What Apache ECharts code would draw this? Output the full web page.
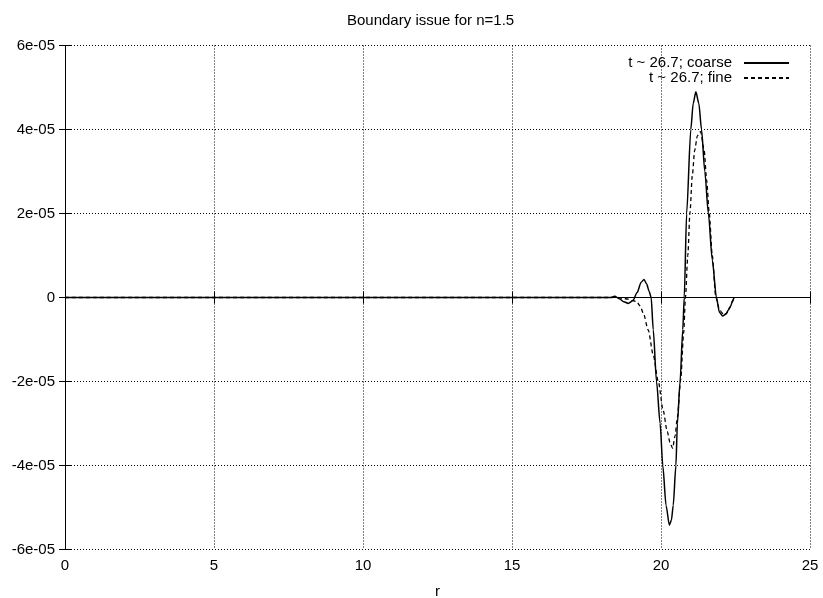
<!DOCTYPE html>
<html>
<head>
<meta charset="utf-8">
<script src="https://cdn.jsdelivr.net/npm/echarts@6/dist/echarts.min.js"></script>
<style>
html,body{margin:0;padding:0;background:#fff;}
#chart{width:823px;height:598px;}
</style>
</head>
<body>
<div id="chart"></div>
<script>
// ---- data (values in units of 1e-5, converted below) ----
const titleText = 'Boundary issue for n=1.5';
const xName = 'r';
const seriesNames = ['t ~ 26.7; coarse', 't ~ 26.7; fine'];

const coarseR = [0, 18.3, 18.45, 18.6, 18.75, 18.9, 19.05, 19.2, 19.33, 19.43, 19.52, 19.6, 19.67, 19.74, 19.85, 19.97, 20.06, 20.17, 20.28, 20.35, 20.41, 20.5, 20.55, 20.64, 20.73, 20.78, 20.86, 21.0, 21.08, 21.17, 21.27, 21.36, 21.47, 21.59, 21.72, 21.86, 21.96, 22.07, 22.17, 22.26, 22.34, 22.4, 22.45];
const coarseV = [0, 0, 0.03, -0.03, -0.1, -0.14, -0.08, 0.12, 0.36, 0.43, 0.32, 0.15, 0, -0.77, -2.0, -3.0, -4.0, -4.95, -5.42, -5.3, -4.95, -4.0, -3.0, -2.0, -0.77, 0, 2.0, 4.0, 4.62, 4.9, 4.62, 4.0, 3.0, 2.0, 0.9, 0, -0.35, -0.44, -0.4, -0.3, -0.2, -0.08, 0];

const fineR = [0, 18.3, 18.5, 18.7, 18.9, 19.05, 19.18, 19.3, 19.41, 19.57, 19.74, 19.91, 20.07, 20.21, 20.3, 20.39, 20.47, 20.55, 20.66, 20.76, 20.82, 20.9, 20.97, 21.05, 21.13, 21.22, 21.33, 21.45, 21.53, 21.62, 21.72, 21.84, 21.95, 22.03, 22.1, 22.2, 22.3, 22.4, 22.45];
const fineV = [0, 0, 0.01, -0.02, -0.04, -0.07, -0.1, -0.2, -0.38, -0.77, -1.37, -2.0, -2.68, -3.19, -3.45, -3.59, -3.3, -2.85, -1.96, -0.85, 0, 1.0, 2.0, 2.9, 3.5, 3.85, 3.95, 3.5, 2.8, 2.0, 1.0, 0, -0.25, -0.35, -0.42, -0.38, -0.25, -0.1, 0];

const xTicks = [0, 5, 10, 15, 20, 25];
const yTickValues = [-6e-5, -4e-5, -2e-5, 0, 2e-5, 4e-5, 6e-5];
const yTickLabels = ['-6e-05', '-4e-05', '-2e-05', '0', '2e-05', '4e-05', '6e-05'];

const SCALE = 1e-5;
const coarseData = coarseR.map((r, i) => [r, coarseV[i] * SCALE]);
const fineData = fineR.map((r, i) => [r, fineV[i] * SCALE]);

const FONT = 'Liberation Sans';
const FS = 15;

function yFmt(v) {
  let best = 0, bd = Infinity;
  yTickValues.forEach((t, i) => { const d = Math.abs(t - v); if (d < bd) { bd = d; best = i; } });
  return yTickLabels[best];
}

const axisCommon = {
  axisLine: { show: true, lineStyle: { color: '#000', width: 1 } },
  axisTick: { show: true, inside: true, length: 6, lineStyle: { color: '#000', width: 1 } }
};

const chart = echarts.init(document.getElementById('chart'), null, { renderer: 'canvas' });
chart.setOption({
  animation: false,
  backgroundColor: '#fff',
  title: {
    text: titleText, left: 347, top: 13, padding: 0,
    textStyle: { fontFamily: FONT, fontSize: FS, fontWeight: 'normal', color: '#000' }
  },
  legend: {
    orient: 'vertical', right: 33, top: 55.5, padding: 0, itemGap: 0,
    align: 'right', itemWidth: 45, itemHeight: 15,
    data: seriesNames,
    itemStyle: { color: 'rgba(0,0,0,0)', borderWidth: 0, opacity: 0 },
    textStyle: { fontFamily: FONT, fontSize: FS, color: '#000', lineHeight: 15, padding: [0, 7, 0, 0] }
  },
  grid: { left: 65, right: 13, top: 45.5, bottom: 48.5, containLabel: false, outerBoundsMode: 'none' },
  xAxis: [
    Object.assign({}, axisCommon, {
      type: 'value', position: 'bottom', min: xTicks[0], max: xTicks[xTicks.length - 1], interval: 5,
      name: xName, nameLocation: 'middle', nameGap: 35,
      nameTextStyle: { fontFamily: FONT, fontSize: FS, color: '#000' },
      axisLabel: { fontFamily: FONT, fontSize: FS, color: '#000', margin: 9 },
      splitLine: { show: true, lineStyle: { color: '#000', width: 1, type: [1, 2] } }
    }),
    Object.assign({}, axisCommon, {
      type: 'value', position: 'top', min: xTicks[0], max: xTicks[xTicks.length - 1], interval: 5,
      axisLabel: { show: false }, splitLine: { show: false }
    })
  ],
  yAxis: [
    Object.assign({}, axisCommon, {
      type: 'value', position: 'left', min: yTickValues[0], max: yTickValues[yTickValues.length - 1], interval: 2e-5,
      axisLabel: { fontFamily: FONT, fontSize: FS, color: '#000', margin: 10, formatter: yFmt },
      splitLine: { show: true, lineStyle: { color: '#000', width: 1, type: [1, 2] } }
    }),
    Object.assign({}, axisCommon, {
      type: 'value', position: 'right', min: yTickValues[0], max: yTickValues[yTickValues.length - 1], interval: 2e-5,
      axisLabel: { show: false }, splitLine: { show: false }
    })
  ],
  series: [
    {
      name: seriesNames[0], type: 'line', data: coarseData, xAxisIndex: 0, yAxisIndex: 0,
      symbol: 'none', smooth: 0.25, smoothMonotone: 'x',
      lineStyle: { color: '#000', width: 1.5, type: 'solid' },
      itemStyle: { color: '#000' }, z: 3
    },
    {
      name: seriesNames[1], type: 'line', data: fineData, xAxisIndex: 0, yAxisIndex: 0,
      symbol: 'none', smooth: 0.25, smoothMonotone: 'x',
      lineStyle: { color: '#000', width: 1.3, type: [4, 3] },
      itemStyle: { color: '#000' }, z: 2
    }
  ]
});
</script>
</body>
</html>
